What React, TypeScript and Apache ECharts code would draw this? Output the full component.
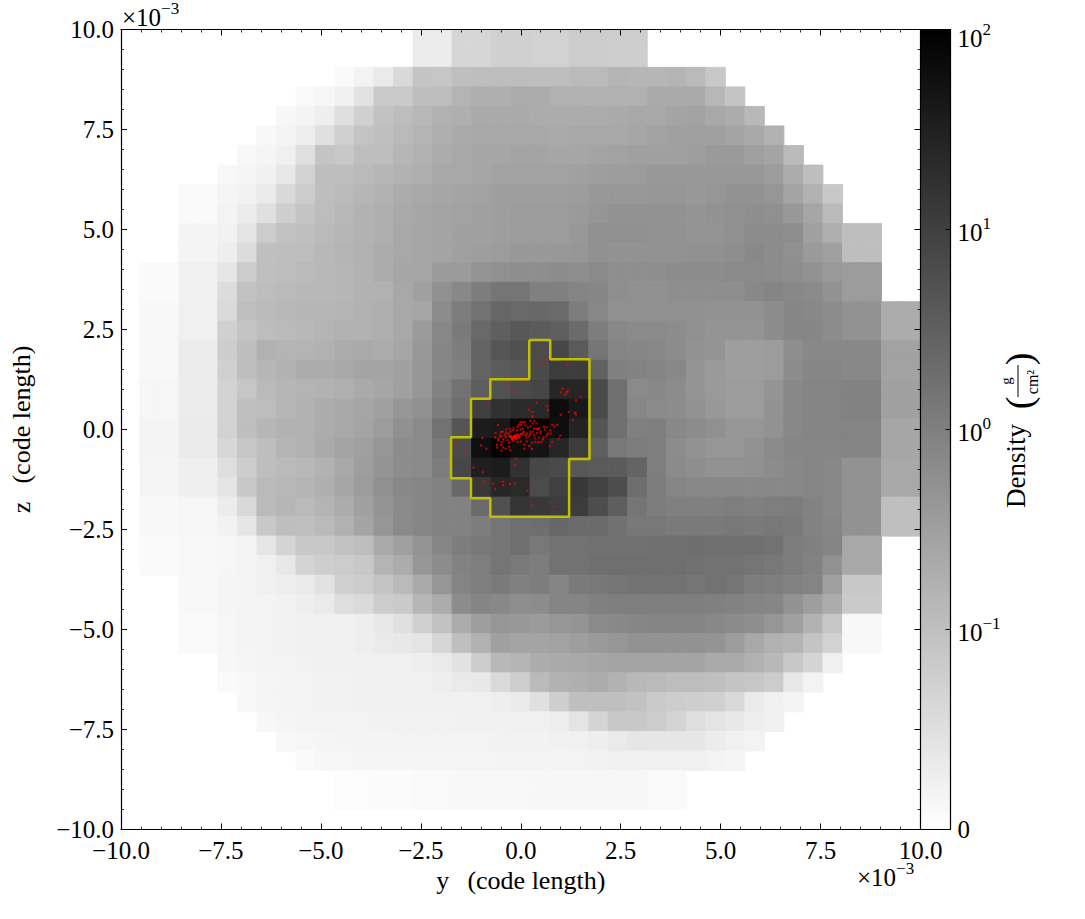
import React, { useEffect, useRef } from "react";
import * as echarts from "echarts";

// Projected density (g/cm^2) on the AMR grid, one row per z-slab from top to bottom.
const rowStarts = [14, 14, 10, 8, 7, 6, 5, 4, 2, 2, 2, 2, 0, 0, 0, 0, 0, 0, 0, 0, 0, 0, 0, 0, 0, 0, 0, 0, 2, 2, 2, 2, 4, 4, 5, 6, 7, 8, 10, 10];
const row00 = [.03,.03,.064,.064,.074,.074,.07,.07,.08,.08,.077,.077];
const row01 = row00;
const row02 = [.008,.019,.033,.06,.092,.089,.1,.105,.11,.11,.105,.105,.12,.12,.15,.14,.14,.15,.12,.086];
const row03 = [.009,.014,.024,.045,.083,.083,.105,.11,.15,.18,.18,.2,.2,.17,.17,.16,.17,.17,.215,.215,.215,.135,.092];
const row04 = [.012,.017,.027,.052,.074,.096,.11,.13,.17,.18,.215,.215,.215,.2,.2,.2,.2,.215,.23,.23,.27,.29,.23,.2,.13];
const row05 = [.011,.017,.027,.048,.074,.092,.1,.12,.15,.18,.215,.23,.23,.23,.23,.215,.23,.23,.23,.25,.29,.31,.31,.31,.27,.23,.17];
const row06 = [.011,.016,.024,.048,.092,.086,.105,.11,.14,.17,.2,.23,.25,.25,.27,.27,.25,.25,.27,.29,.31,.31,.31,.33,.38,.38,.31,.27,.12];
const row07 = [.011,.016,.022,.036,.07,.105,.105,.12,.14,.16,.18,.23,.23,.25,.29,.29,.29,.29,.31,.33,.36,.36,.41,.41,.41,.41,.41,.41,.36,.2,.105];
const row08 = [.008,.008,.016,.02,.033,.06,.08,.105,.12,.14,.16,.2,.23,.25,.27,.29,.33,.33,.33,.33,.36,.41,.41,.41,.44,.44,.41,.44,.51,.51,.44,.27,.17,.086];
const row09 = [.008,.008,.019,.03,.048,.077,.092,.11,.13,.16,.18,.215,.25,.27,.29,.31,.33,.36,.36,.36,.38,.44,.51,.51,.51,.51,.47,.51,.55,.59,.55,.41,.25,.12];
const row10 = [.017,.017,.02,.042,.08,.096,.1,.12,.14,.16,.18,.23,.25,.27,.31,.31,.33,.36,.36,.36,.41,.55,.55,.55,.51,.51,.47,.47,.55,.64,.64,.59,.31,.18,.105,.105];
const row11 = [.017,.017,.027,.055,.1,.105,.11,.13,.15,.17,.2,.23,.25,.27,.31,.33,.36,.41,.41,.41,.44,.55,.51,.51,.51,.51,.55,.55,.59,.73,.64,.55,.38,.31,.105,.105];
const row12 = [.008,.008,.024,.024,.04,.08,.1,.11,.12,.13,.14,.16,.2,.25,.26,.37,.37,.47,.55,.59,.59,.64,.59,.68,.59,.59,.59,.64,.64,.64,.68,.68,.64,.59,.51,.38,.36,.36];
const row13 = [.008,.008,.024,.024,.055,.096,.11,.12,.13,.13,.14,.16,.17,.23,.31,.53,.73,1.1,1.45,1.45,.98,.98,.85,.79,.59,.55,.55,.59,.59,.59,.59,.73,.85,.73,.68,.51,.36,.36];
const row14 = [.011,.011,.024,.024,.058,.1,.12,.13,.14,.14,.15,.17,.18,.23,.26,.64,1.1,1.65,2.55,2.25,2.3,2.1,1.1,.76,.55,.55,.55,.55,.55,.51,.51,.51,.64,.79,.73,.64,.51,.51,.2,.2];
const row15 = [.011,.011,.024,.024,.074,.092,.11,.12,.13,.15,.16,.17,.18,.23,.37,.76,1.2,2.25,3.2,4.2,3.7,3.2,2.1,1.1,.76,.68,.68,.64,.55,.47,.47,.47,.64,.79,.79,.64,.51,.51,.2,.2];
const row16 = [.011,.011,.03,.03,.079,.105,.17,.15,.15,.17,.2,.215,.2,.25,.41,.79,1.1,2.7,4.5,5.6,6.6,7.6,3.9,1.45,.85,.79,.73,.64,.51,.47,.33,.33,.36,.59,.73,.73,.73,.73,.29,.29];
const row17 = [.011,.011,.03,.03,.074,.105,.14,.16,.2,.2,.23,.27,.27,.31,.44,.79,.98,2.7,3.7,4.2,6.8,11.4,11,3,.98,.91,.85,.73,.47,.38,.33,.33,.36,.64,.79,.79,.73,.73,.29,.29];
const row18 = [.014,.014,.03,.03,.07,.089,.12,.14,.15,.16,.175,.215,.25,.31,.44,.91,1.65,3.3,5.2,7,8,25,25,6.8,1.8,.68,.76,.64,.47,.38,.36,.36,.47,.73,.85,.85,.91,.91,.31,.31];
const row19 = [.014,.014,.03,.03,.07,.1,.11,.14,.16,.2,.23,.26,.31,.44,.53,1.1,1.9,10,17,21,23,66,40,6.8,1.8,.76,.68,.64,.51,.41,.36,.36,.51,.73,.85,.85,.91,.91,.31,.31];
const row20 = [.017,.017,.032,.032,.07,.105,.14,.16,.17,.2,.23,.27,.36,.53,.68,1.65,4.7,37,41,90,90,60,28,4.7,1.8,.98,1.05,.73,.64,.55,.44,.44,.51,.73,.85,.85,.85,.85,.25,.25];
const row21 = [.017,.017,.032,.032,.062,.089,.105,.15,.17,.215,.27,.31,.44,.64,.68,1.3,6.8,58,90,66,48,25,11.4,3.2,1.3,1.1,1.05,.64,.51,.44,.44,.51,.68,.79,.79,.79,.85,.85,.25,.25];
const row22 = [.016,.016,.025,.025,.052,.079,.105,.12,.13,.16,.23,.33,.47,.64,.68,1.1,7.6,33,37,17,7.6,6.8,4.2,3.9,3.7,2.7,1.05,.68,.59,.51,.51,.55,.64,.73,.79,.73,.51,.51,.23,.23];
const row23 = [.016,.016,.025,.025,.042,.086,.12,.13,.15,.18,.25,.36,.55,.73,.79,.91,2.3,13,25,22,6.6,9.5,13,8.9,6.1,1.9,1.1,.79,.73,.73,.73,.73,.73,.73,.79,.73,.51,.51,.23,.23];
const row24 = [.011,.011,.014,.014,.03,.06,.12,.14,.12,.15,.2,.31,.47,.68,.79,.91,.91,2.1,5.6,14.5,13,11.4,11.4,6.1,3.3,1.45,1.1,.98,.98,.98,1.05,.98,1.05,1.1,.91,.73,.51,.51,.1,.1];
const row25 = [.011,.011,.014,.014,.02,.04,.086,.105,.1,.12,.17,.27,.44,.68,.79,.91,.91,1.1,1.45,1.8,1.9,2.4,2.1,2.1,1.7,1.3,1.3,1.2,1.2,1.2,1.3,1.2,1.3,1.2,.91,.79,.51,.51,.1,.1];
const row26 = [.008,.008,.011,.011,.014,.017,.04,.067,.086,.086,.096,.105,.215,.31,.47,.79,1.1,1.3,1.45,1.8,1.3,1.6,1.6,1.7,1.7,1.7,1.8,1.8,1.9,1.8,1.8,1.8,1.6,1.1,.98,.85,.23,.23];
const row27 = [.008,.008,.011,.011,.014,.017,.024,.036,.067,.077,.08,.086,.15,.2,.44,.64,.91,1.05,1.45,1.2,1.1,1.6,1.6,1.8,1.8,1.8,1.8,1.8,1.7,1.6,1.6,1.45,1.3,1.1,.91,.51,.23,.23];
const row28 = [.011,.011,.016,.017,.024,.027,.033,.045,.074,.08,.092,.12,.215,.44,.85,1.05,1.2,.98,1.1,.85,1.2,1.3,1.45,1.6,1.6,1.6,1.45,1.6,1.45,1.1,1.05,.91,.85,.31,.086,.086];
const row29 = [.011,.011,.016,.017,.019,.02,.027,.033,.052,.058,.08,.083,.14,.2,.64,.85,.73,.59,.64,.85,.85,.98,1.05,1.05,1.05,1.05,1.05,.98,.91,.85,.79,.51,.33,.2,.083,.083];
const row30 = [.008,.008,.014,.017,.019,.02,.022,.024,.024,.027,.036,.048,.074,.096,.2,.33,.44,.41,.37,.44,.47,.68,.73,.79,.85,.85,.85,.73,.68,.59,.44,.31,.16,.089,.011,.011];
const row31 = [.008,.008,.014,.017,.019,.02,.022,.024,.024,.027,.033,.036,.042,.064,.1,.17,.31,.27,.27,.29,.33,.38,.44,.51,.51,.51,.51,.47,.36,.23,.17,.15,.092,.07,.011,.011];
const row32 = [.012,.016,.017,.019,.02,.022,.022,.024,.024,.024,.027,.033,.045,.08,.13,.15,.2,.215,.23,.25,.27,.27,.27,.27,.27,.215,.215,.17,.13,.086,.067,.024];
const row33 = [.008,.011,.016,.017,.019,.02,.02,.022,.022,.024,.024,.027,.033,.036,.058,.077,.12,.16,.18,.2,.16,.13,.12,.11,.11,.1,.092,.089,.08,.036,.019];
const row34 = [.011,.016,.017,.019,.02,.02,.022,.022,.022,.024,.024,.024,.024,.027,.033,.048,.077,.1,.1,.1,.096,.083,.079,.077,.074,.06,.033,.024,.017];
const row35 = [.012,.016,.017,.019,.019,.019,.02,.02,.02,.02,.022,.022,.022,.024,.024,.027,.042,.067,.086,.086,.08,.067,.052,.042,.036,.027,.024];
const row36 = [.011,.014,.016,.017,.017,.017,.019,.019,.019,.019,.019,.02,.02,.02,.022,.024,.027,.033,.04,.04,.04,.04,.03,.024,.019];
const row37 = [.008,.012,.014,.016,.016,.016,.016,.016,.016,.016,.017,.017,.017,.017,.019,.02,.022,.022,.024,.024,.024,.019,.016];
const row38 = [.004,.004,.006,.006,.009,.009,.011,.011,.011,.011,.012,.012,.012,.012,.012,.012,.009,.009];
const row39 = row38;
const densityRows = [row00,row01,row02,row03,row04,row05,row06,row07,row08,row09,row10,row11,row12,row13,row14,row15,row16,row17,row18,row19,row20,row21,row22,row23,row24,row25,row26,row27,row28,row29,row30,row31,row32,row33,row34,row35,row36,row37,row38,row39];

// Contour, in units of 1e-3 code length.
const contourY = [.2125,.7375,.7375,1.72,1.72,1.21,1.21,-.7625,-.7625,-1.245,-1.245,-1.745,-1.745,-1.245,-1.245,-.7625,-.7625,.2125,.2125];
const contourZ = [2.24,2.24,1.755,1.755,-.7375,-.7375,-2.18,-2.18,-1.72,-1.72,-1.22,-1.22,-.195,-.195,.77,.77,1.255,1.255,2.24];

// Particles, in units of 1e-3 code length.
const particleY = [.46,.61,1.17,-.3,.06,-.12,1.05,1.01,1.17,1.14,1.1,1.38,1.5,.4,.66,-.81,.2,.3,.29,.68,1.2,1.36,1.38,1,1.3,.79,.84,.91,-.57,-.01,.04,.1,.24,.34,.39,.01,-.08,-.18,-.26,-.36,-.49,-.63,-.64,-.56,-.49,-.44,-.36,-.28,-.19,-.09,-.01,.08,.16,.24,.33,.39,.46,.58,.66,.74,.68,.56,.49,.41,.33,.23,.12,.03,-.08,-.13,-.18,-.11,-.16,-.22,-.08,-.05,-.19,-.13,-.26,-.33,-.38,-.48,-.56,-.59,-.59,-.49,-.44,-.29,-.19,-.08,-.29,-.26,-.48,-.38,.09,.21,.28,.37,.45,.52,.78,.95,.73,.56,.66,.99,-.96,-.99,-.86,-1.61,-1.41,.28,.09,-.13,-.15,-1.18,-.95,-.92,-.7,-.45,-.44,-.27,-.14,-.64,.17,.28,.84,-.24,-.2,-.16,-.14,-.12,-.1,-.23,-.17,-.21,-.15,-.05,0,.06,-.03,.14,.2,.3,.43,.5,.6,.05,.12,.18,.25,.3,-.05,-.25,-.3,-.4,-.45,-.52,0,.15,.35,.45,.62,.75];
const particleZ = [1.67,1.73,1.61,1.15,1.2,.98,1.02,.93,.96,.92,.87,.73,.81,.67,.58,.61,.5,.44,.33,.48,.44,.42,.38,.37,.23,.12,.07,.11,.11,.18,.18,.19,.22,.21,.15,.11,.07,.04,.02,0,-.06,-.08,-.2,-.23,-.18,-.25,-.08,-.17,-.02,-.02,0,-.06,-.1,-.06,.02,.02,.03,.07,.06,-.02,-.1,-.2,-.1,-.08,-.14,-.12,-.14,-.1,-.12,-.17,-.2,-.2,-.22,-.23,-.22,-.18,-.18,-.14,-.2,-.27,-.2,-.32,-.28,-.38,-.45,-.39,-.45,-.33,-.28,-.31,-.43,-.52,-.53,-.48,-.38,-.41,-.33,-.31,-.32,-.31,-.31,-.23,-.42,-.25,-.14,-.15,-.21,-.4,-.48,-.38,-.52,-.48,-.48,-.73,-.89,-.95,-1.07,-1.3,-1.35,-1.3,-1.39,-1.36,-1.35,-1.49,-1.53,-1.9,-1.93,-.16,-.22,-.16,-.21,-.24,-.16,-.19,-.19,-.25,-.18,-.14,-.11,-.13,-.2,-.2,-.17,-.05,0,-.05,0,.02,.1,.05,.08,.15,.12,-.05,-.1,-.13,-.05,-.15,-.3,-.3,-.2,-.2,-.18,-.1];

const spatialTicks = { min: -10, max: 10, interval: 2.5 };
const cbarTickLabels = ["0", "{b|10}{s|\u22121}", "{b|10}{s|0}", "{b|10}{s|1}", ""];
const cbarTopLabel = "{b|10}{s|2}";
const offsetLabel = "{b|\u00d710}{s|\u22123}";

const CELL = 0.48828;
const ORIGIN_Y = -9.53;
const ORIGIN_Z = 10.03;
const LINTHRESH = 0.1;
const DECADES = 4;
const SERIF = '"Liberation Serif", serif';
const FS = 25;

function symlogPosition(v: number) {
  return v <= LINTHRESH ? v / LINTHRESH : 1 + Math.log10(v / LINTHRESH);
}
function density2color(v: number) {
  const g = Math.round(255 * (1 - symlogPosition(v) / DECADES));
  return `rgb(${g},${g},${g})`;
}

function spatialAxis(extra: any) {
  return {
    type: "value",
    ...spatialTicks,
    z: 10,
    splitLine: { show: false },
    axisLine: { show: true, onZero: false, lineStyle: { color: "#000", width: 1.2 } },
    axisTick: { show: true, inside: true, length: 6, lineStyle: { color: "#000", width: 1 } },
    minorTick: { show: true, splitNumber: 5, length: 3, lineStyle: { color: "#000", width: 0.8 } },
    minorSplitLine: { show: false },
    ...extra,
  };
}
const tickFmt = (v: number) => (v < 0 ? "\u2212" : "") + Math.abs(v).toFixed(1);
const shownLabel = (margin: number) => ({
  show: true,
  formatter: tickFmt,
  fontFamily: SERIF,
  fontSize: FS,
  color: "#000",
  margin,
});
const richExp = {
  b: { fontFamily: SERIF, fontSize: FS, color: "#000", lineHeight: 30, verticalAlign: "bottom" },
  s: { fontFamily: SERIF, fontSize: 17, color: "#000", lineHeight: 15, verticalAlign: "top" },
};

export default function App() {
  const ref = useRef<HTMLDivElement>(null);
  useEffect(() => {
    const chart = echarts.init(ref.current!, undefined, { renderer: "svg" });
    const cells: number[][] = [];
    densityRows.forEach((row, r) =>
      row.forEach((v, i) => cells.push([ORIGIN_Y + (rowStarts[r] + i) * CELL, ORIGIN_Z - r * CELL, v]))
    );
    const G = [
      { left: 120.5, top: 29.5, width: 800, height: 800 },
      { left: 920.5, top: 29.5, width: 30, height: 800 },
    ];
    const richText = (x: number, y: number, text: string) => ({
      type: "text",
      x,
      y,
      style: { text, rich: richExp, fill: "#000", textAlign: "left", textVerticalAlign: "middle" },
    });
    const rotText = (x: number, y: number, text: string, fontSize: number) => ({
      type: "text",
      x,
      y,
      rotation: Math.PI / 2,
      style: {
        text,
        fontFamily: SERIF,
        fontSize,
        fill: "#000",
        textAlign: "center",
        textVerticalAlign: "middle",
      },
    });
    chart.setOption({
      animation: false,
      backgroundColor: "#fff",
      grid: G,
      xAxis: [
        spatialAxis({
          gridIndex: 0,
          position: "bottom",
          axisLabel: shownLabel(8),
          name: "y\u2002\u2009(code length)",
          nameLocation: "middle",
          nameGap: 36,
          nameTextStyle: { fontFamily: SERIF, fontSize: 26, color: "#000" },
        }),
        spatialAxis({ gridIndex: 0, position: "top", axisLabel: { show: false } }),
        {
          type: "value", gridIndex: 1, min: 0, max: 1, position: "bottom", z: 10,
          splitLine: { show: false }, axisTick: { show: false }, axisLabel: { show: false },
          axisLine: { show: true, onZero: false, lineStyle: { color: "#000", width: 1.2 } },
        },
        {
          type: "value", gridIndex: 1, min: 0, max: 1, position: "top", z: 10,
          splitLine: { show: false }, axisTick: { show: false }, axisLabel: { show: false },
          axisLine: { show: true, onZero: false, lineStyle: { color: "#000", width: 1.2 } },
        },
      ],
      yAxis: [
        spatialAxis({
          gridIndex: 0,
          position: "left",
          axisLabel: shownLabel(7),
          name: "z\u2002\u2009(code length)",
          nameLocation: "middle",
          nameRotate: 90,
          nameGap: 87,
          nameTextStyle: { fontFamily: SERIF, fontSize: 26, color: "#000" },
        }),
        spatialAxis({ gridIndex: 0, position: "right", axisLabel: { show: false } }),
        {
          type: "value",
          gridIndex: 1,
          min: 0,
          max: DECADES,
          interval: 1,
          position: "right",
          z: 10,
          splitLine: { show: false },
          axisLine: { show: true, onZero: false, lineStyle: { color: "#000", width: 1.2 } },
          axisTick: { show: true, inside: true, length: 5, lineStyle: { color: "#000", width: 1 } },
          axisLabel: {
            show: true,
            margin: 7,
            formatter: (v: number) => cbarTickLabels[Math.round(v)],
            fontFamily: SERIF,
            fontSize: FS,
            color: "#000",
            rich: richExp,
          },
        },
      ],
      series: [
        {
          type: "custom",
          xAxisIndex: 0,
          yAxisIndex: 0,
          z: 2,
          silent: true,
          clip: true,
          data: cells,
          encode: { x: 0, y: 1 },
          renderItem: (params: any, api: any) => {
            const x = api.value(0);
            const z = api.value(1);
            const a = api.coord([x, z]);
            const b = api.coord([x + CELL, z - CELL]);
            const shape = echarts.graphic.clipRectByRect(
              { x: a[0], y: a[1], width: b[0] - a[0], height: b[1] - a[1] },
              params.coordSys
            );
            if (!shape) return null;
            const fill = density2color(api.value(2));
            return { type: "rect", shape, style: { fill, stroke: fill, lineWidth: 0.9 } };
          },
        },
        {
          type: "line",
          xAxisIndex: 0,
          yAxisIndex: 0,
          z: 4,
          silent: true,
          showSymbol: false,
          symbol: "none",
          data: contourY.map((y, i) => [y, contourZ[i]]),
          lineStyle: { color: "#bfbf00", width: 2.5 },
        },
        {
          type: "scatter",
          xAxisIndex: 0,
          yAxisIndex: 0,
          z: 5,
          silent: true,
          symbol: "rect",
          symbolSize: 2,
          data: particleY.map((y, i) => [y, particleZ[i]]),
          itemStyle: { color: "#ff0000" },
        },
        {
          type: "custom",
          xAxisIndex: 2,
          yAxisIndex: 2,
          z: 2,
          silent: true,
          data: [[0, 0]],
          renderItem: (params: any) => ({
            type: "rect",
            shape: {
              x: params.coordSys.x,
              y: params.coordSys.y,
              width: params.coordSys.width,
              height: params.coordSys.height,
            },
            style: {
              fill: new echarts.graphic.LinearGradient(0, 0, 0, 1, [
                { offset: 0, color: "#000" },
                { offset: 1, color: "#fff" },
              ]),
            },
          }),
        },
      ],
      graphic: [
        richText(122, 15, offsetLabel),
        richText(857, 875, offsetLabel),
        richText(957.5, 36, cbarTopLabel),
        rotText(1016, 466, "Density", 27),
        rotText(1019, 403, "(", 38),
        rotText(1019, 359, ")", 38),
        rotText(1006, 381, "g", 15),
        rotText(1032, 382, "cm\u00b2", 16),
        {
          type: "line",
          shape: { x1: 1018, y1: 365, x2: 1018, y2: 397 },
          style: { stroke: "#000", lineWidth: 1 },
        },
      ],
    });
    return () => chart.dispose();
  }, []);
  return (
    <div
      ref={ref}
      style={{ position: "fixed", left: 0, top: 0, width: 1085, height: 919, background: "#fff" }}
    />
  );
}
